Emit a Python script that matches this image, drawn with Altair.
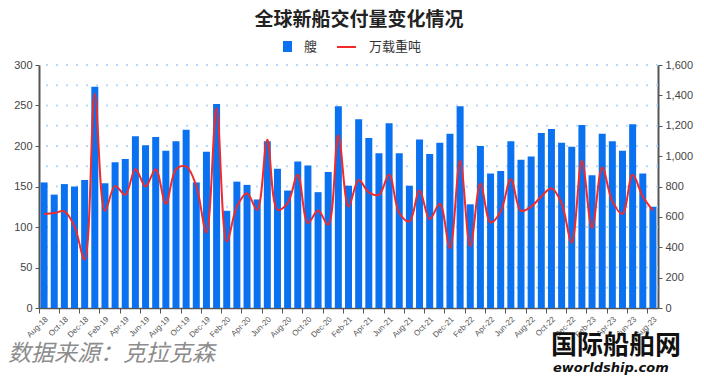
import altair as alt
import pandas as pd

MONTH_NAMES = ["Jan", "Feb", "Mar", "Apr", "May", "Jun",
               "Jul", "Aug", "Sep", "Oct", "Nov", "Dec"]
months = []
for i in range(61):
    k = 7 + i
    months.append(f"{MONTH_NAMES[k % 12]}-{18 + k // 12:02d}")
tick_months = months[::2]

# 艘 (left axis)
ships = [155, 140, 153, 150, 158, 273, 154, 180, 184, 212,
         201, 211, 194, 206, 220, 155, 193, 252, 120, 156,
         152, 134, 206, 172, 145, 181, 176, 143, 168, 249,
         151, 233, 210, 191, 228, 191, 151, 208, 190, 204,
         215, 249, 128, 200, 166, 169, 206, 183, 187, 216,
         221, 204, 199, 226, 164, 215, 206, 194, 227, 166,
         125]

# 万载重吨 (right axis)
dwt = [619, 625, 636, 537, 318, 1410, 640, 804, 745, 916,
       800, 914, 686, 914, 932, 804, 497, 1315, 438, 668,
       756, 646, 1107, 646, 690, 877, 559, 642, 548, 1138,
       668, 843, 761, 745, 877, 625, 570, 773, 585, 686,
       394, 969, 406, 818, 563, 636, 848, 640, 668, 734,
       789, 690, 431, 969, 526, 925, 702, 620, 877, 734,
       642]

left_ticks = list(range(0, 301, 50))
right_ticks = list(range(0, 1601, 200))
grid_levels = list(range(25, 301, 25))

df = pd.DataFrame({"month": months, "ships": ships, "dwt": dwt})
grid_df = pd.DataFrame({"g": grid_levels})

FONT = "Noto Sans CJK SC"
LAB = "Liberation Sans"
BLUE = "#0A72F0"
RED = "#F22A2A"
AXC = "#555555"

x_enc = alt.X(
    "month:N", sort=months, title=None,
    scale=alt.Scale(paddingInner=0, paddingOuter=0),
    axis=alt.Axis(values=tick_months, bandPosition=0, labelAngle=-45,
                  labelAlign="right", labelFontSize=8, labelFont=LAB,
                  labelColor="#555555", tickSize=5, tickColor=AXC,
                  domainColor=AXC, domainWidth=1.5, labelPadding=2,
                  labelOverlap=False),
)

grid = alt.Chart(grid_df).mark_rule(
    color="#B9D9FA", strokeWidth=2, strokeDash=[2, 8]
).encode(y=alt.Y("g:Q", scale=alt.Scale(domain=[0, 300]), title=None))

bars = alt.Chart(df).mark_bar(color=BLUE, size=7).encode(
    x=x_enc,
    y=alt.Y("ships:Q", scale=alt.Scale(domain=[0, 300]), title=None,
            axis=alt.Axis(values=left_ticks, grid=False, labelFont=LAB,
                          labelFontSize=11, labelColor="#444444",
                          tickSize=4, tickColor=AXC, domainColor=AXC,
                          domainWidth=2, labelPadding=3)),
)

line = alt.Chart(df).mark_line(
    color=RED, strokeWidth=2, interpolate="catmull-rom"
).encode(
    x=x_enc,
    y=alt.Y("dwt:Q", scale=alt.Scale(domain=[0, 1600]), title=None,
            axis=alt.Axis(orient="right", values=right_ticks, format=",.0f",
                          grid=False, labelFont=LAB, labelFontSize=11,
                          labelColor="#444444", tickSize=4, tickColor=AXC,
                          domainColor=AXC, domainWidth=2, labelPadding=3)),
)

one = pd.DataFrame({"k": [0]})

title = alt.Chart(one).mark_text(
    text="全球新船交付量变化情况", font=FONT, fontSize=19, fontWeight="bold",
    color="#222222", align="center", baseline="middle"
).encode(x=alt.value(320), y=alt.value(-45))

leg_sq = alt.Chart(one).mark_rect(color=BLUE).encode(
    x=alt.value(244), x2=alt.value(253), y=alt.value(-24), y2=alt.value(-13))
leg_t1 = alt.Chart(one).mark_text(
    text="艘", font=FONT, fontSize=13, color="#333333", align="left",
    baseline="middle").encode(x=alt.value(265), y=alt.value(-18))
leg_ln = alt.Chart(one).mark_rule(color=RED, strokeWidth=2).encode(
    x=alt.value(298), x2=alt.value(317), y=alt.value(-18))
leg_t2 = alt.Chart(one).mark_text(
    text="万载重吨", font=FONT, fontSize=13, color="#333333", align="left",
    baseline="middle").encode(x=alt.value(330), y=alt.value(-18))

source = alt.Chart(one).mark_text(
    text="数据来源：克拉克森", font=FONT, fontSize=23, fontStyle="italic",
    color="#8C8C8C", align="left", baseline="middle"
).encode(x=alt.value(-31), y=alt.value(289))

wm1 = alt.Chart(one).mark_text(
    text="国际船舶网", font=FONT, fontSize=26, fontWeight="bold",
    color="#111111", align="left", baseline="middle"
).encode(x=alt.value(512), y=alt.value(281))
wm2 = alt.Chart(one).mark_text(
    text="eworldship.com", font="DejaVu Sans", fontSize=13,
    fontWeight="bold", fontStyle="italic", color="#111111", align="left",
    baseline="middle"
).encode(x=alt.value(514), y=alt.value(303))

main = alt.layer(alt.layer(grid, bars), line).resolve_scale(y="independent")

chart = alt.layer(
    main, title, leg_sq, leg_t1, leg_ln, leg_t2, source, wm1, wm2
).properties(
    width=619, height=243,
    autosize=alt.AutoSizeParams(type="none"),
    padding={"left": 39, "top": 65, "right": 46, "bottom": 68},
    background="white",
).configure_view(stroke=None)

chart.save("out.html", embed_options={"renderer": "svg", "actions": False})
